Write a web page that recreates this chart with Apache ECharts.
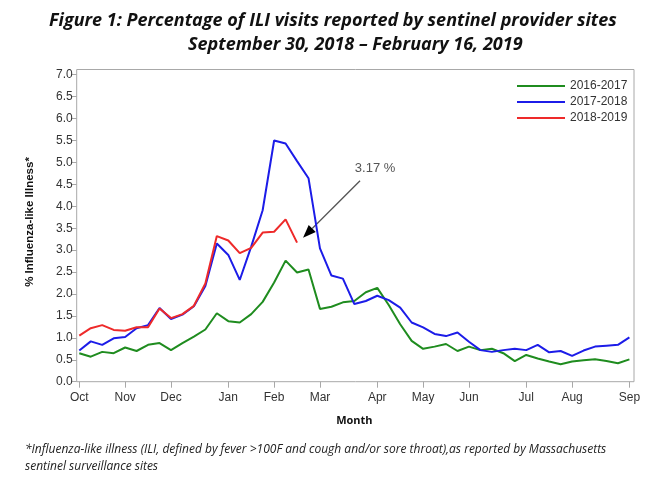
<!DOCTYPE html>
<html>
<head>
<meta charset="utf-8">
<title>ILI visits - sentinel provider sites</title>
<script src="https://cdn.jsdelivr.net/npm/echarts@6/dist/echarts.min.js"></script>
<style>
  html, body { margin: 0; padding: 0; background: #fff; }
  #chart { width: 650px; height: 477px; }
</style>
</head>
<body>
<div id="chart"></div>
<script>
/* 数据部分 */
// 周次：第40周起，共49周
const weeks = [40, 41, 42, 43, 44, 45, 46, 47, 48, 49, 50, 51, 52,
  1, 2, 3, 4, 5, 6, 7, 8, 9, 10, 11, 12, 13, 14, 15, 16, 17, 18, 19, 20,
  21, 22, 23, 24, 25, 26, 27, 28, 29, 30, 31, 32, 33, 34, 35, 36];

// 月份刻度及其所在周的序号
const monthNames = ['Oct', 'Nov', 'Dec', 'Jan', 'Feb', 'Mar', 'Apr', 'May', 'Jun', 'Jul', 'Aug', 'Sep'];
const monthWeekIdx = [0, 4, 8, 13, 17, 21, 26, 30, 34, 39, 43, 48];

const seriesNames = ['2016-2017', '2017-2018', '2018-2019'];

// % ILI
const ili1617 = [0.65, 0.57, 0.68, 0.65, 0.78, 0.70, 0.84, 0.88, 0.72, 0.88, 1.03, 1.19, 1.56,
  1.38, 1.35, 1.54, 1.82, 2.26, 2.76, 2.49, 2.56, 1.66, 1.71, 1.81, 1.84, 2.04, 2.14, 1.75,
  1.31, 0.93, 0.75, 0.80, 0.86, 0.70, 0.80, 0.72, 0.75, 0.65, 0.47, 0.61, 0.53, 0.46, 0.40,
  0.46, 0.49, 0.51, 0.47, 0.42, 0.51];
const ili1718 = [0.71, 0.92, 0.84, 0.99, 1.02, 1.22, 1.29, 1.68, 1.43, 1.53, 1.72, 2.18, 3.15,
  2.89, 2.32, 3.08, 3.91, 5.50, 5.43, 5.03, 4.64, 3.04, 2.42, 2.35, 1.77, 1.84, 1.96, 1.86,
  1.69, 1.35, 1.24, 1.09, 1.04, 1.12, 0.91, 0.72, 0.68, 0.72, 0.75, 0.72, 0.84, 0.67, 0.70,
  0.59, 0.71, 0.80, 0.82, 0.84, 1.01];
const ili1819 = [1.05, 1.22, 1.29, 1.18, 1.16, 1.24, 1.24, 1.67, 1.45, 1.54, 1.73, 2.24, 3.32,
  3.22, 2.93, 3.05, 3.40, 3.42, 3.70, 3.17];

const lineColors = ['#1f8c1f', '#1c1ce8', '#ee2a2a'];

/* 图表配置 */
const chart = echarts.init(document.getElementById('chart'));

const isMonthTick = function (index) {
  return monthWeekIdx.indexOf(index) !== -1;
};

const titleFont = { fontFamily: 'Open Sans', fontStyle: 'italic', fontWeight: 'bold', fontSize: 18, fill: '#111' };
const noteFont = { fontFamily: 'Open Sans', fontStyle: 'italic', fontSize: 12, fill: '#222' };

const option = {
  backgroundColor: '#fff',
  animation: false,
  legend: {
    orient: 'vertical',
    left: 512,
    top: 75,
    itemWidth: 48,
    itemHeight: 2,
    itemGap: 4,
    icon: 'rect',
    data: seriesNames,
    textStyle: { fontFamily: 'Liberation Sans', fontSize: 12, color: '#333' }
  },
  grid: [{
    // 图表区
    left: 79.3, right: 20.6, top: 74.7, bottom: 95.3
  }, {
    // 外框
    left: 76.7, right: 16, top: 69.5, bottom: 95.3,
    show: true, borderColor: '#a8a8a8', borderWidth: 1
  }],
  xAxis: [{
    type: 'category',
    gridIndex: 0,
    data: weeks,
    boundaryGap: false,
    name: 'Month',
    nameLocation: 'middle',
    nameGap: 34,
    nameTextStyle: { fontFamily: 'Open Sans', fontWeight: 'bold', fontSize: 11, color: '#111' },
    axisLine: { show: false },
    axisTick: { show: true, interval: isMonthTick, length: 6, lineStyle: { color: '#a8a8a8' } },
    axisLabel: {
      interval: isMonthTick,
      margin: 10,
      fontFamily: 'Liberation Sans', fontSize: 12, color: '#333',
      formatter: function (value, index) {
        return monthNames[monthWeekIdx.indexOf(index)];
      }
    },
    splitLine: { show: false }
  }, {
    type: 'value', gridIndex: 1, show: false
  }],
  yAxis: [{
    type: 'value',
    gridIndex: 0,
    min: 0,
    max: 7,
    interval: 0.5,
    offset: 2.6,
    axisLine: { show: false },
    axisTick: { show: true, length: 5, lineStyle: { color: '#a8a8a8' } },
    axisLabel: {
      margin: 4,
      fontFamily: 'Liberation Sans', fontSize: 12, color: '#333',
      formatter: function (v) { return v.toFixed(1); }
    },
    splitLine: { show: false }
  }, {
    type: 'value', gridIndex: 1, show: false
  }],
  series: [ili1617, ili1718, ili1819].map(function (vals, i) {
    return {
      name: seriesNames[i],
      type: 'line',
      xAxisIndex: 0,
      yAxisIndex: 0,
      data: vals,
      showSymbol: false,
      symbol: 'none',
      color: lineColors[i],
      lineStyle: { width: 2, color: lineColors[i] }
    };
  }),
  graphic: [{
    id: 'title1',
    type: 'text',
    x: 49, y: 21,
    style: Object.assign({
      text: 'Figure 1: Percentage of ILI visits reported by sentinel provider sites',
      align: 'left', verticalAlign: 'middle'
    }, titleFont)
  }, {
    id: 'title2',
    type: 'text',
    x: 188, y: 45,
    style: Object.assign({
      text: 'September 30, 2018 \u2013 February 16, 2019',
      align: 'left', verticalAlign: 'middle'
    }, titleFont)
  }, {
    id: 'yname',
    type: 'text',
    x: 30, y: 222,
    rotation: Math.PI / 2,
    style: {
      text: '% Influenza-like Illness*',
      fontFamily: 'Liberation Sans', fontWeight: 'bold', fontSize: 11.5, fill: '#111',
      align: 'center', verticalAlign: 'middle'
    }
  }, {
    id: 'note1',
    type: 'text',
    x: 25, y: 450,
    style: Object.assign({
      text: '*Influenza-like illness (ILI, defined by fever >100F and cough and/or sore throat),as reported by Massachusetts',
      align: 'left', verticalAlign: 'middle'
    }, noteFont)
  }, {
    id: 'note2',
    type: 'text',
    x: 25, y: 467,
    style: Object.assign({
      text: 'sentinel surveillance sites',
      align: 'left', verticalAlign: 'middle'
    }, noteFont)
  }]
};

chart.setOption(option);

/* 最后一周的标注箭头 */
const lastIdx = ili1819.length - 1;
const p = chart.convertToPixel({ seriesIndex: 2 }, [lastIdx, ili1819[lastIdx]]);
const tip = [p[0] + 6, p[1] - 5];
const start = [tip[0] + 57, tip[1] - 57];
const d = [-0.7071, 0.7071];
const headLen = 13, headHalf = 5;
const base = [tip[0] - headLen * d[0], tip[1] - headLen * d[1]];
const perp = [0.7071, 0.7071];

chart.setOption({
  graphic: [{
    id: 'arrowLine',
    type: 'line',
    shape: { x1: start[0], y1: start[1], x2: base[0], y2: base[1] },
    style: { stroke: '#555', lineWidth: 1.3 }
  }, {
    id: 'arrowHead',
    type: 'polygon',
    shape: {
      points: [tip,
        [base[0] + headHalf * perp[0], base[1] + headHalf * perp[1]],
        [base[0] - headHalf * perp[0], base[1] - headHalf * perp[1]]]
    },
    style: { fill: '#000' }
  }, {
    id: 'arrowText',
    type: 'text',
    x: start[0] + 15, y: start[1] - 12,
    style: {
      text: ili1819[lastIdx].toFixed(2) + ' %',
      fontFamily: 'Liberation Sans', fontSize: 13, fill: '#555',
      align: 'center', verticalAlign: 'middle'
    }
  }]
});
</script>
</body>
</html>
